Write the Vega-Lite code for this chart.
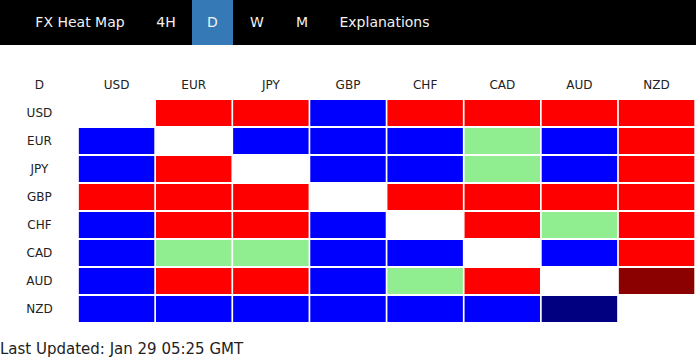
{
  "$schema": "https://vega.github.io/schema/vega-lite/v6.json",
  "padding": 0,
  "background": "white",
  "config": {"view": {"stroke": null}, "font": "DejaVu Sans"},
  "title": {"text": "Last Updated: Jan 29 05:25 GMT", "orient": "bottom", "anchor": "start", "fontSize": 15, "fontWeight": "normal", "font": "DejaVu Sans", "color": "#222222", "baseline": "top", "offset": 19},
  "spacing": 26,
  "vconcat": [
    {
      "spacing": 0,
      "hconcat": [
        {"width": 20, "height": 45, "view": {"fill": "black", "stroke": null}, "data": {"values": [{"tab": ""}]}, "mark": {"type": "text"}, "encoding": {"text": {"field": "tab"}}},
        {"width": 120, "height": 45, "view": {"fill": "black", "stroke": null}, "data": {"values": [{"tab": "FX Heat Map"}]}, "mark": {"type": "text", "fontSize": 14, "color": "#f2f2f2", "font": "DejaVu Sans"}, "encoding": {"text": {"field": "tab"}}},
        {"width": 52, "height": 45, "view": {"fill": "black", "stroke": null}, "data": {"values": [{"tab": "4H"}]}, "mark": {"type": "text", "fontSize": 14, "color": "#f2f2f2", "font": "DejaVu Sans"}, "encoding": {"text": {"field": "tab"}}},
        {"width": 41, "height": 45, "view": {"fill": "#357ab7", "stroke": null}, "data": {"values": [{"tab": "D"}]}, "mark": {"type": "text", "fontSize": 14, "color": "#f2f2f2", "font": "DejaVu Sans"}, "encoding": {"text": {"field": "tab"}}},
        {"width": 48, "height": 45, "view": {"fill": "black", "stroke": null}, "data": {"values": [{"tab": "W"}]}, "mark": {"type": "text", "fontSize": 14, "color": "#f2f2f2", "font": "DejaVu Sans"}, "encoding": {"text": {"field": "tab"}}},
        {"width": 42, "height": 45, "view": {"fill": "black", "stroke": null}, "data": {"values": [{"tab": "M"}]}, "mark": {"type": "text", "fontSize": 14, "color": "#f2f2f2", "font": "DejaVu Sans"}, "encoding": {"text": {"field": "tab"}}},
        {"width": 123, "height": 45, "view": {"fill": "black", "stroke": null}, "data": {"values": [{"tab": "Explanations"}]}, "mark": {"type": "text", "fontSize": 14, "color": "#f2f2f2", "font": "DejaVu Sans"}, "encoding": {"text": {"field": "tab"}}},
        {"width": 250, "height": 45, "view": {"fill": "black", "stroke": null}, "data": {"values": [{"tab": ""}]}, "mark": {"type": "text"}, "encoding": {"text": {"field": "tab"}}}
      ]
    },
    {
      "width": 696,
      "height": 252,
      "encoding": {
        "x": {"field": "col", "type": "nominal", "axis": null, "scale": {"domain": ["D", "USD", "EUR", "JPY", "GBP", "CHF", "CAD", "AUD", "NZD"], "paddingInner": 0.022, "paddingOuter": 0.022}},
        "y": {"field": "row", "type": "nominal", "axis": null, "scale": {"domain": ["D", "USD", "EUR", "JPY", "GBP", "CHF", "CAD", "AUD", "NZD"], "paddingInner": 0.07, "paddingOuter": 0.035}}
      },
      "layer": [
        {
          "data": {"values": [
            {"row": "USD", "col": "EUR", "signal": "Up"},
            {"row": "USD", "col": "JPY", "signal": "Up"},
            {"row": "USD", "col": "GBP", "signal": "Down"},
            {"row": "USD", "col": "CHF", "signal": "Up"},
            {"row": "USD", "col": "CAD", "signal": "Up"},
            {"row": "USD", "col": "AUD", "signal": "Up"},
            {"row": "USD", "col": "NZD", "signal": "Up"},
            {"row": "EUR", "col": "USD", "signal": "Down"},
            {"row": "EUR", "col": "JPY", "signal": "Down"},
            {"row": "EUR", "col": "GBP", "signal": "Down"},
            {"row": "EUR", "col": "CHF", "signal": "Down"},
            {"row": "EUR", "col": "CAD", "signal": "Flat"},
            {"row": "EUR", "col": "AUD", "signal": "Down"},
            {"row": "EUR", "col": "NZD", "signal": "Up"},
            {"row": "JPY", "col": "USD", "signal": "Down"},
            {"row": "JPY", "col": "EUR", "signal": "Up"},
            {"row": "JPY", "col": "GBP", "signal": "Down"},
            {"row": "JPY", "col": "CHF", "signal": "Down"},
            {"row": "JPY", "col": "CAD", "signal": "Flat"},
            {"row": "JPY", "col": "AUD", "signal": "Down"},
            {"row": "JPY", "col": "NZD", "signal": "Up"},
            {"row": "GBP", "col": "USD", "signal": "Up"},
            {"row": "GBP", "col": "EUR", "signal": "Up"},
            {"row": "GBP", "col": "JPY", "signal": "Up"},
            {"row": "GBP", "col": "CHF", "signal": "Up"},
            {"row": "GBP", "col": "CAD", "signal": "Up"},
            {"row": "GBP", "col": "AUD", "signal": "Up"},
            {"row": "GBP", "col": "NZD", "signal": "Up"},
            {"row": "CHF", "col": "USD", "signal": "Down"},
            {"row": "CHF", "col": "EUR", "signal": "Up"},
            {"row": "CHF", "col": "JPY", "signal": "Up"},
            {"row": "CHF", "col": "GBP", "signal": "Down"},
            {"row": "CHF", "col": "CAD", "signal": "Up"},
            {"row": "CHF", "col": "AUD", "signal": "Flat"},
            {"row": "CHF", "col": "NZD", "signal": "Up"},
            {"row": "CAD", "col": "USD", "signal": "Down"},
            {"row": "CAD", "col": "EUR", "signal": "Flat"},
            {"row": "CAD", "col": "JPY", "signal": "Flat"},
            {"row": "CAD", "col": "GBP", "signal": "Down"},
            {"row": "CAD", "col": "CHF", "signal": "Down"},
            {"row": "CAD", "col": "AUD", "signal": "Down"},
            {"row": "CAD", "col": "NZD", "signal": "Up"},
            {"row": "AUD", "col": "USD", "signal": "Down"},
            {"row": "AUD", "col": "EUR", "signal": "Up"},
            {"row": "AUD", "col": "JPY", "signal": "Up"},
            {"row": "AUD", "col": "GBP", "signal": "Down"},
            {"row": "AUD", "col": "CHF", "signal": "Flat"},
            {"row": "AUD", "col": "CAD", "signal": "Up"},
            {"row": "AUD", "col": "NZD", "signal": "Strong Up"},
            {"row": "NZD", "col": "USD", "signal": "Down"},
            {"row": "NZD", "col": "EUR", "signal": "Down"},
            {"row": "NZD", "col": "JPY", "signal": "Down"},
            {"row": "NZD", "col": "GBP", "signal": "Down"},
            {"row": "NZD", "col": "CHF", "signal": "Down"},
            {"row": "NZD", "col": "CAD", "signal": "Down"},
            {"row": "NZD", "col": "AUD", "signal": "Strong Down"}
          ]},
          "mark": {"type": "rect"},
          "encoding": {
            "color": {"field": "signal", "type": "nominal", "legend": null, "scale": {"domain": ["Up", "Down", "Flat", "Strong Up", "Strong Down"], "range": ["#ff0000", "#0000ff", "#90ee90", "#8b0000", "#000080"]}}
          }
        },
        {
          "data": {"values": [
            {"row": "D", "col": "D", "label": "D"},
            {"row": "D", "col": "USD", "label": "USD"},
            {"row": "D", "col": "EUR", "label": "EUR"},
            {"row": "D", "col": "JPY", "label": "JPY"},
            {"row": "D", "col": "GBP", "label": "GBP"},
            {"row": "D", "col": "CHF", "label": "CHF"},
            {"row": "D", "col": "CAD", "label": "CAD"},
            {"row": "D", "col": "AUD", "label": "AUD"},
            {"row": "D", "col": "NZD", "label": "NZD"},
            {"row": "USD", "col": "D", "label": "USD"},
            {"row": "EUR", "col": "D", "label": "EUR"},
            {"row": "JPY", "col": "D", "label": "JPY"},
            {"row": "GBP", "col": "D", "label": "GBP"},
            {"row": "CHF", "col": "D", "label": "CHF"},
            {"row": "CAD", "col": "D", "label": "CAD"},
            {"row": "AUD", "col": "D", "label": "AUD"},
            {"row": "NZD", "col": "D", "label": "NZD"}
          ]},
          "mark": {"type": "text", "fontSize": 12, "color": "#222222", "font": "DejaVu Sans"},
          "encoding": {"text": {"field": "label"}}
        }
      ]
    }
  ]
}
